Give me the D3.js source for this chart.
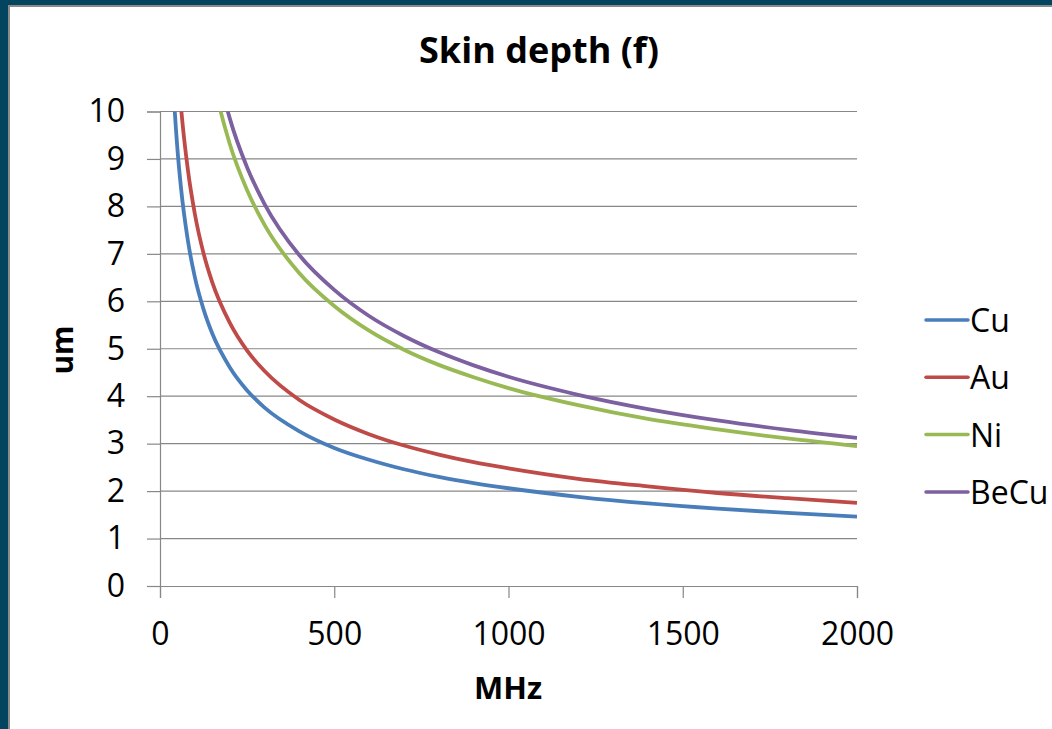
<!DOCTYPE html>
<html>
<head>
<meta charset="utf-8">
<script src="https://cdn.jsdelivr.net/npm/d3@7"></script>
<style>
  html, body { margin: 0; padding: 0; background: #fff; }
  svg { display: block; }
  text { font-family: "Open Sans", "Liberation Sans", sans-serif; fill: #000; }
</style>
</head>
<body>
<div id="chart"></div>
<script>
// frequency in MHz, skin depth in um
const freqs = [20, 30, 40, 50, 60, 80, 100, 125, 150, 200, 250, 300, 400, 500, 600, 700, 800, 900, 1000, 1200, 1400, 1600, 1800, 2000];
const cu    = [14.57, 11.89, 10.3, 9.21, 8.41, 7.28, 6.51, 5.83, 5.32, 4.61, 4.12, 3.76, 3.26, 2.91, 2.66, 2.46, 2.30, 2.17, 2.06, 1.88, 1.74, 1.63, 1.54, 1.46];
const au    = [17.5, 14.3, 12.4, 11.1, 10.12, 8.77, 7.84, 7.01, 6.40, 5.55, 4.96, 4.53, 3.92, 3.51, 3.20, 2.96, 2.77, 2.61, 2.48, 2.26, 2.10, 1.96, 1.85, 1.75];
const ni    = [null, null, null, null, null, null, 13.19, 11.79, 10.77, 9.32, 8.34, 7.61, 6.59, 5.90, 5.38, 4.98, 4.66, 4.40, 4.17, 3.81, 3.52, 3.30, 3.11, 2.95];
const becu  = [null, null, null, null, null, null, 13.95, 12.47, 11.39, 9.86, 8.82, 8.05, 6.97, 6.24, 5.69, 5.27, 4.93, 4.65, 4.41, 4.03, 3.73, 3.49, 3.29, 3.12];
const seriesNames = ["Cu", "Au", "Ni", "BeCu"];
const seriesColors = ["#4a7ebb", "#be4b48", "#98b954", "#7d60a0"];
const xTicks = [0, 500, 1000, 1500, 2000];
const yTicks = [0, 1, 2, 3, 4, 5, 6, 7, 8, 9, 10];

const width = 1052, height = 729;
const plot = {left: 160, right: 857, top: 111.5, bottom: 586};

const svg = d3.select("#chart").append("svg")
  .attr("width", width)
  .attr("height", height);

// slide frame
svg.append("rect").attr("x", 0).attr("y", 0).attr("width", width).attr("height", height).attr("fill", "#03455f");
svg.append("rect").attr("x", 8).attr("y", 5).attr("width", width - 8).attr("height", height - 5).attr("fill", "#8a8a8a");
svg.append("rect").attr("x", 10).attr("y", 7).attr("width", width - 10).attr("height", height - 7).attr("fill", "#fff");

const x = d3.scaleLinear().domain([0, 2000]).range([plot.left, plot.right]);
const y = d3.scaleLinear().domain([0, 10]).range([plot.bottom, plot.top]);

// gridlines
svg.append("g")
  .selectAll("line")
  .data(yTicks.filter(d => d > 0))
  .join("line")
  .attr("x1", plot.left).attr("x2", plot.right)
  .attr("y1", d => y(d)).attr("y2", d => y(d))
  .attr("stroke", "#878787").attr("stroke-width", 1.2);

// y axis
const yAxis = d3.axisLeft(y).tickValues(yTicks).tickSize(13).tickPadding(22).tickFormat(d3.format("d"));
const gy = svg.append("g").attr("transform", "translate(" + plot.left + ",0)").call(yAxis);
gy.select(".domain").attr("stroke", "#878787").attr("stroke-width", 1.2);
gy.selectAll(".tick line").attr("stroke", "#878787").attr("stroke-width", 1.2);
gy.selectAll(".tick text").attr("font-size", 32).attr("font-family", "Open Sans, sans-serif").attr("fill", "#000");

// x axis
const xAxis = d3.axisBottom(x).tickValues(xTicks).tickSize(12).tickPadding(24).tickFormat(d3.format("d"));
const gx = svg.append("g").attr("transform", "translate(0," + plot.bottom + ")").call(xAxis);
gx.select(".domain").attr("stroke", "#878787").attr("stroke-width", 1.2);
gx.selectAll(".tick line").attr("stroke", "#878787").attr("stroke-width", 1.2);
gx.selectAll(".tick text").attr("font-size", 32).attr("font-family", "Open Sans, sans-serif").attr("fill", "#000");

// clip curves to the plot area
svg.append("clipPath").attr("id", "clip")
  .append("rect")
  .attr("x", plot.left).attr("y", plot.top)
  .attr("width", plot.right - plot.left).attr("height", plot.bottom - plot.top);

const allSeries = [cu, au, ni, becu];
const line = d3.line()
  .defined(d => d[1] != null)
  .x(d => x(d[0]))
  .y(d => y(d[1]))
  .curve(d3.curveMonotoneX);

svg.append("g").attr("clip-path", "url(#clip)")
  .selectAll("path")
  .data(allSeries)
  .join("path")
  .attr("d", s => line(freqs.map((f, i) => [f, s[i]])))
  .attr("fill", "none")
  .attr("stroke", (s, i) => seriesColors[i])
  .attr("stroke-width", 3.8)
  .attr("stroke-linejoin", "round");

// titles
svg.append("text")
  .attr("x", 539).attr("y", 63)
  .attr("text-anchor", "middle")
  .attr("font-size", 36).attr("font-weight", "bold")
  .text("Skin depth (f)");

svg.append("text")
  .attr("x", 508).attr("y", 699)
  .attr("text-anchor", "middle")
  .attr("font-size", 31).attr("font-weight", "bold")
  .text("MHz");

svg.append("text")
  .attr("transform", "translate(73,350) rotate(-90)")
  .attr("text-anchor", "middle")
  .attr("font-size", 30).attr("font-weight", "bold")
  .text("um");

// legend
const legend = svg.append("g")
  .selectAll("g")
  .data(seriesNames)
  .join("g")
  .attr("transform", (d, i) => "translate(926," + (320 + i * 57.3) + ")");
legend.append("line")
  .attr("x1", 0).attr("x2", 42)
  .attr("stroke", (d, i) => seriesColors[i])
  .attr("stroke-width", 3.5)
  .attr("stroke-linecap", "round");
legend.append("text")
  .attr("x", 44).attr("y", 12)
  .attr("font-size", 32)
  .text(d => d);
</script>
</body>
</html>
